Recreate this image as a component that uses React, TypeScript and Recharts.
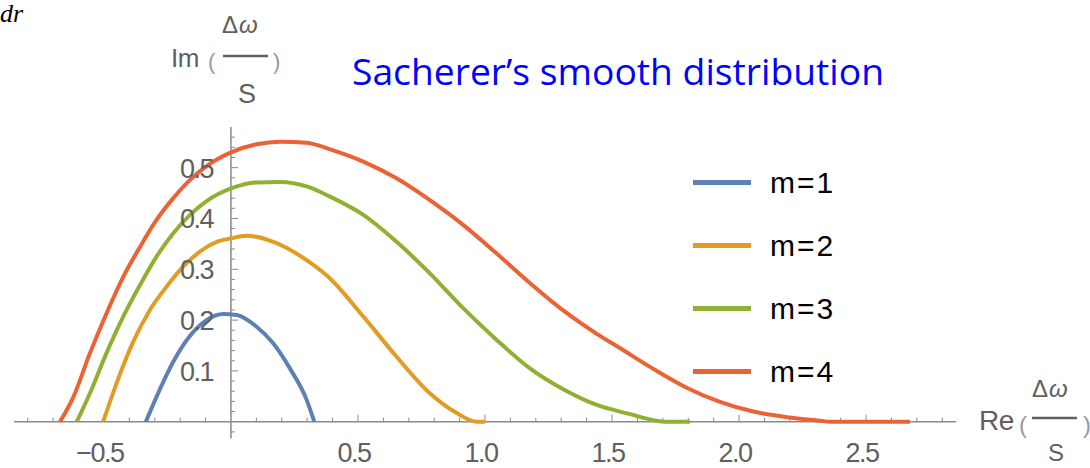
import React from 'react';
import { Legend, Line, LineChart, ReferenceDot, ReferenceLine, XAxis, YAxis } from 'recharts';

// values, Re(Δω/S) against Im(Δω/S)
const m1X = [-0.335, -0.293, -0.227, -0.161, -0.096, -0.03, 0.022, 0.101, 0.167, 0.232, 0.298, 0.328];
const m1Y = [0, 0.049, 0.118, 0.169, 0.2, 0.212, 0.21, 0.187, 0.154, 0.105, 0.043, 0];

const m2X = [-0.503, -0.45, -0.385, -0.319, -0.253, -0.188, -0.122, -0.056, 0, 0.062, 0.167, 0.298, 0.39, 0.521, 0.652, 0.783, 0.889, 0.967, 1.0];
const m2Y = [0, 0.076, 0.157, 0.22, 0.266, 0.305, 0.335, 0.354, 0.361, 0.366, 0.354, 0.318, 0.282, 0.207, 0.128, 0.056, 0.017, 0, 0];

const m3X = [-0.607, -0.555, -0.49, -0.424, -0.358, -0.293, -0.227, -0.161, -0.096, 0, 0.101, 0.193, 0.298, 0.39, 0.521, 0.652, 0.783, 0.915, 1.046, 1.177, 1.308, 1.44, 1.571, 1.663, 1.72, 1.807];
const m3Y = [0, 0.056, 0.135, 0.207, 0.269, 0.325, 0.371, 0.407, 0.434, 0.459, 0.471, 0.472, 0.463, 0.443, 0.407, 0.354, 0.292, 0.223, 0.161, 0.105, 0.064, 0.033, 0.015, 0.003, 0, 0];

const m4X = [-0.673, -0.62, -0.555, -0.49, -0.424, -0.358, -0.293, -0.227, -0.161, -0.096, 0, 0.101, 0.193, 0.298, 0.39, 0.521, 0.652, 0.783, 0.915, 1.046, 1.177, 1.308, 1.44, 1.531, 1.663, 1.794, 1.925, 2.056, 2.188, 2.319, 2.36, 2.673];
const m4Y = [0, 0.049, 0.135, 0.213, 0.285, 0.344, 0.397, 0.44, 0.476, 0.503, 0.53, 0.546, 0.551, 0.549, 0.536, 0.512, 0.479, 0.436, 0.387, 0.331, 0.273, 0.219, 0.173, 0.145, 0.104, 0.067, 0.039, 0.02, 0.009, 0.002, 0, 0];

const xMajorTicks = [-0.5, 0.5, 1.0, 1.5, 2.0, 2.5];
const xTickLabels = ['\u22120.5', '0.5', '1.0', '1.5', '2.0', '2.5'];
const xMinorTicks = [-0.8, -0.7, -0.6, -0.4, -0.3, -0.2, -0.1, 0.1, 0.2, 0.3, 0.4, 0.6, 0.7, 0.8, 0.9, 1.1, 1.2, 1.3, 1.4, 1.6, 1.7, 1.8, 1.9, 2.1, 2.2, 2.3, 2.4, 2.6, 2.7, 2.8];
const yMajorTicks = [0.1, 0.2, 0.3, 0.4, 0.5];
const yTickLabels = ['0.1', '0.2', '0.3', '0.4', '0.5'];
const yMinorTicks = [-0.02, 0.02, 0.04, 0.06, 0.08, 0.12, 0.14, 0.16, 0.18, 0.22, 0.24, 0.26, 0.28, 0.32, 0.34, 0.36, 0.38, 0.42, 0.44, 0.46, 0.48, 0.52, 0.54, 0.56];

const seriesNames = ['m=1', 'm=2', 'm=3', 'm=4'];
const seriesColors = ['#5e81b5', '#e19c24', '#8fb032', '#eb6235'];

const toPoints = (xs: number[], ys: number[]) => xs.map((x, i) => ({ x, y: ys[i] }));
const series = [toPoints(m1X, m1Y), toPoints(m2X, m2Y), toPoints(m3X, m3Y), toPoints(m4X, m4Y)];

const AXIS = '#8a8a8a';
const TICK_TEXT = '#606060';
const TICK_FONT = '"Liberation Sans", Arial, sans-serif';

const xTickLabel = (text: string) => (props: any) => {
    const vb = props.viewBox;
    return (
        <text x={vb.x - 4} y={vb.y + 40} textAnchor="middle" fontSize={27} fill={TICK_TEXT}
            fontFamily={TICK_FONT} letterSpacing={-1.5}>{text}</text>
    );
};

const yTickLabel = (text: string) => (props: any) => {
    const vb = props.viewBox;
    return (
        <text x={vb.x - 18} y={vb.y + 10} textAnchor="end" fontSize={27} fill={TICK_TEXT}
            fontFamily={TICK_FONT} letterSpacing={-1.5}>{text}</text>
    );
};

const renderLegend = () => (
    <div style={{ fontFamily: TICK_FONT }}>
        {seriesNames.map((name, i) => (
            <div key={name} style={{ display: 'flex', alignItems: 'center', height: 63 }}>
                <div style={{ width: 58, height: 5, background: seriesColors[i] }} />
                <span style={{ marginLeft: 19, fontSize: 30, color: '#000', letterSpacing: 2 }}>{name}</span>
            </div>
        ))}
    </div>
);

export default function App() {
    return (
        <div style={{ position: 'absolute', left: 0, top: 0, width: 1090, height: 468, background: '#fff', overflow: 'hidden' }}>
            <LineChart width={1090} height={468} margin={{ top: 127, right: 134, bottom: 29.5, left: 14 }}>
                <XAxis type="number" dataKey="x" domain={[-0.854, 2.854]} hide allowDataOverflow />
                <YAxis type="number" dataKey="y" domain={[-0.033, 0.58]} hide allowDataOverflow />
                <ReferenceLine y={0} stroke={AXIS} strokeWidth={1.5} />
                <ReferenceLine x={0} stroke={AXIS} strokeWidth={1.5} />
                {xMinorTicks.map((v) => (
                    <ReferenceLine key={'xm' + v} segment={[{ x: v, y: 0 }, { x: v, y: 0.008 }]} stroke={AXIS} strokeWidth={1} />
                ))}
                {xMajorTicks.map((v) => (
                    <ReferenceLine key={'xM' + v} segment={[{ x: v, y: 0 }, { x: v, y: 0.014 }]} stroke={AXIS} strokeWidth={1} />
                ))}
                {yMinorTicks.map((v) => (
                    <ReferenceLine key={'ym' + v} segment={[{ x: 0, y: v }, { x: 0.016, y: v }]} stroke={AXIS} strokeWidth={1} />
                ))}
                {yMajorTicks.map((v) => (
                    <ReferenceLine key={'yM' + v} segment={[{ x: 0, y: v }, { x: 0.028, y: v }]} stroke={AXIS} strokeWidth={1} />
                ))}
                {xMajorTicks.map((v, i) => (
                    <ReferenceDot key={'xl' + v} x={v} y={0} r={0} stroke="none" fill="none" label={xTickLabel(xTickLabels[i])} />
                ))}
                {yMajorTicks.map((v, i) => (
                    <ReferenceDot key={'yl' + v} x={0} y={v} r={0} stroke="none" fill="none" label={yTickLabel(yTickLabels[i])} />
                ))}
                {series.map((pts, i) => (
                    <Line key={seriesNames[i]} name={seriesNames[i]} data={pts} dataKey="y" type="monotone"
                        stroke={seriesColors[i]} strokeWidth={4} dot={false} isAnimationActive={false} />
                ))}
                <Legend layout="vertical" align="center" verticalAlign="middle" content={renderLegend}
                    wrapperStyle={{ left: 693, top: 151, width: 200 }} />
            </LineChart>
            <svg width={1090} height={468} style={{ position: 'absolute', left: 0, top: 0, pointerEvents: 'none' }}>
                <text x={0} y={22} fontSize={26} fontStyle="italic" fontFamily='"Liberation Serif", serif' fill="#000">dr</text>
                <text x={352} y={85} fontSize={37} fontFamily='"Open Sans", sans-serif' fill="#0000ff"
                    textLength={532} lengthAdjust="spacingAndGlyphs">Sacherer’s smooth distribution</text>
                {/* Im(Δω / S) */}
                <g fill={TICK_TEXT} fontFamily={TICK_FONT}>
                    <text x={171} y={67} fontSize={26} letterSpacing={-0.5}>Im</text>
                    <text x={208} y={69} fontSize={22} fill="#999">(</text>
                    <text x={222} y={33} fontSize={24} letterSpacing={1}>Δ<tspan fontStyle="italic">ω</tspan></text>
                    <line x1={223} x2={268} y1={56} y2={56} stroke={TICK_TEXT} strokeWidth={2.5} />
                    <text x={238} y={103} fontSize={27}>S</text>
                    <text x={273} y={69} fontSize={22} fill="#999">)</text>
                </g>
                {/* Re(Δω / S) */}
                <g fill={TICK_TEXT} fontFamily={TICK_FONT}>
                    <text x={979} y={430} fontSize={28} letterSpacing={-0.5}>Re</text>
                    <text x={1019} y={433} fontSize={24} fill="#999">(</text>
                    <text x={1032} y={397} fontSize={24} letterSpacing={1}>Δ<tspan fontStyle="italic">ω</tspan></text>
                    <line x1={1032} x2={1077} y1={418} y2={418} stroke={TICK_TEXT} strokeWidth={2.5} />
                    <text x={1048} y={461} fontSize={24}>S</text>
                    <text x={1083} y={433} fontSize={24} fill="#999">)</text>
                </g>
            </svg>
        </div>
    );
}
